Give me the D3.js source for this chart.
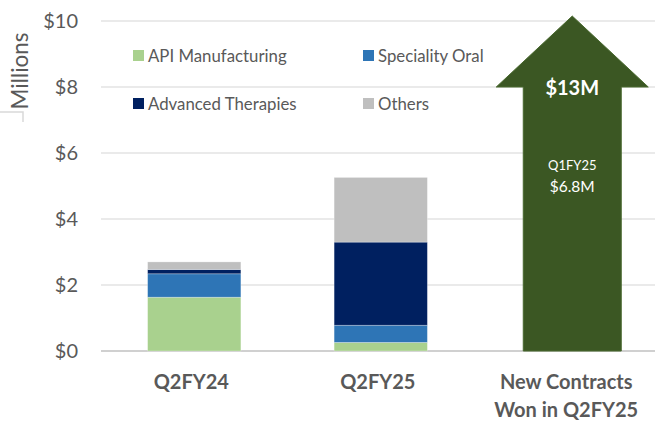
<!DOCTYPE html>
<html lang="en">
<head>
<meta charset="UTF-8">
<script src="https://d3js.org/d3.v7.min.js"></script>
<style>
  body { margin: 0; background: #fff; }
  text { font-family: Lato, "Open Sans", sans-serif; fill: #595959; }
</style>
</head>
<body>
<script>
// categories and series
const categories = ["Q2FY24", "Q2FY25", "New Contracts|Won in Q2FY25"];
const seriesNames = ["API Manufacturing", "Speciality Oral", "Advanced Therapies", "Others"];
const seriesColors = ["#a9d18e", "#2e75b6", "#002060", "#bfbfbf"];
const apiValues = [1.63, 0.26];
const oralValues = [0.71, 0.52];
const advancedValues = [0.13, 2.52];
const otherValues = [0.23, 1.96];
const yTicks = [0, 2, 4, 6, 8, 10];

// arrow for new contracts (drawn to the top of the axis)
const arrowTip = 10.15;
const arrowShoulder = 8.0;
const arrowLabels = ["$13M", "Q1FY25", "$6.8M"];

const W = 655, H = 421;
const svg = d3.select("body").append("svg").attr("width", W).attr("height", H);

const y = d3.scaleLinear().domain([0, 10]).range([351, 21]);
const x = d3.scaleBand().domain(categories).range([101, 660.5])
  .paddingInner(0.5).paddingOuter(0.25);

// gridlines
svg.selectAll(".grid")
  .data(yTicks)
  .enter().append("line")
  .attr("x1", 101).attr("x2", W)
  .attr("y1", d => y(d)).attr("y2", d => y(d))
  .attr("stroke", d => d === 0 ? "#d0d0d0" : "#e3e3e3")
  .attr("stroke-width", d => d === 0 ? 2 : 1.5);

// y tick labels
svg.selectAll(".ytick")
  .data(yTicks)
  .enter().append("text")
  .attr("x", 78).attr("y", d => y(d) + 7)
  .attr("text-anchor", "end")
  .attr("font-size", 20)
  .text(d => "$" + d);

// Millions title
svg.append("text")
  .attr("transform", "translate(28,71) rotate(-90)")
  .attr("text-anchor", "middle")
  .attr("font-size", 22.5)
  .text("Millions");
svg.append("path")
  .attr("d", "M0,112 H23 V122")
  .attr("fill", "none").attr("stroke", "#d9d9d9").attr("stroke-width", 1.5);

// stacked bars
const rows = categories.slice(0, 2).map((c, i) => ({
  cat: c,
  "API Manufacturing": apiValues[i],
  "Speciality Oral": oralValues[i],
  "Advanced Therapies": advancedValues[i],
  "Others": otherValues[i]
}));
const stacked = d3.stack().keys(seriesNames)(rows);
const color = d3.scaleOrdinal().domain(seriesNames).range(seriesColors);

svg.selectAll(".layer")
  .data(stacked)
  .enter().append("g")
  .attr("fill", d => color(d.key))
  .selectAll("rect")
  .data(d => d)
  .enter().append("rect")
  .attr("x", d => x(d.data.cat))
  .attr("width", x.bandwidth())
  .attr("y", d => y(d[1]))
  .attr("height", d => y(d[0]) - y(d[1]))
  .attr("stroke", "#ffffff").attr("stroke-opacity", 0.35).attr("stroke-width", 0.8);

// arrow
const ac = x(categories[2]) + x.bandwidth() / 2 + 5;
const shaft = 49, head = 76;
const arrowPath = d3.path();
arrowPath.moveTo(ac, y(arrowTip));
arrowPath.lineTo(ac + head, y(arrowShoulder));
arrowPath.lineTo(ac + shaft, y(arrowShoulder));
arrowPath.lineTo(ac + shaft, y(0));
arrowPath.lineTo(ac - shaft, y(0));
arrowPath.lineTo(ac - shaft, y(arrowShoulder));
arrowPath.lineTo(ac - head, y(arrowShoulder));
arrowPath.closePath();
svg.append("path")
  .attr("d", arrowPath.toString())
  .attr("fill", "#3b5723")
  .attr("stroke", "#4a6a30").attr("stroke-width", 1);

svg.append("text")
  .attr("x", ac).attr("y", 95)
  .attr("text-anchor", "middle")
  .attr("font-size", 20).attr("font-weight", "bold")
  .style("fill", "#ffffff")
  .text(arrowLabels[0]);
svg.append("text")
  .attr("x", ac).attr("y", 170)
  .attr("text-anchor", "middle")
  .attr("font-size", 13)
  .style("fill", "#ffffff")
  .text(arrowLabels[1]);
svg.append("text")
  .attr("x", ac).attr("y", 192)
  .attr("text-anchor", "middle")
  .attr("font-size", 15.5)
  .style("fill", "#ffffff")
  .text(arrowLabels[2]);

// category labels
svg.selectAll(".xlab")
  .data(categories)
  .enter().append("text")
  .attr("text-anchor", "middle")
  .attr("font-size", 20).attr("font-weight", "bold")
  .each(function(d, i) {
    const cx = x(d) + x.bandwidth() / 2 + (i === 2 ? -1 : -3);
    d.split("|").forEach((line, j) => {
      d3.select(this).append("tspan")
        .attr("x", cx).attr("y", 389 + j * 28)
        .text(line);
    });
  });

// legend
const legendPos = [[133, 56], [363, 56], [133, 104], [363, 104]];
const legend = svg.selectAll(".legend")
  .data(seriesNames)
  .enter().append("g")
  .attr("transform", (d, i) => `translate(${legendPos[i][0]},${legendPos[i][1]})`);
legend.append("rect")
  .attr("x", 0).attr("y", -6).attr("width", 11).attr("height", 11)
  .attr("fill", d => color(d));
legend.append("text")
  .attr("x", 15).attr("y", 6)
  .attr("font-size", 16.8)
  .text(d => d);
</script>
</body>
</html>
